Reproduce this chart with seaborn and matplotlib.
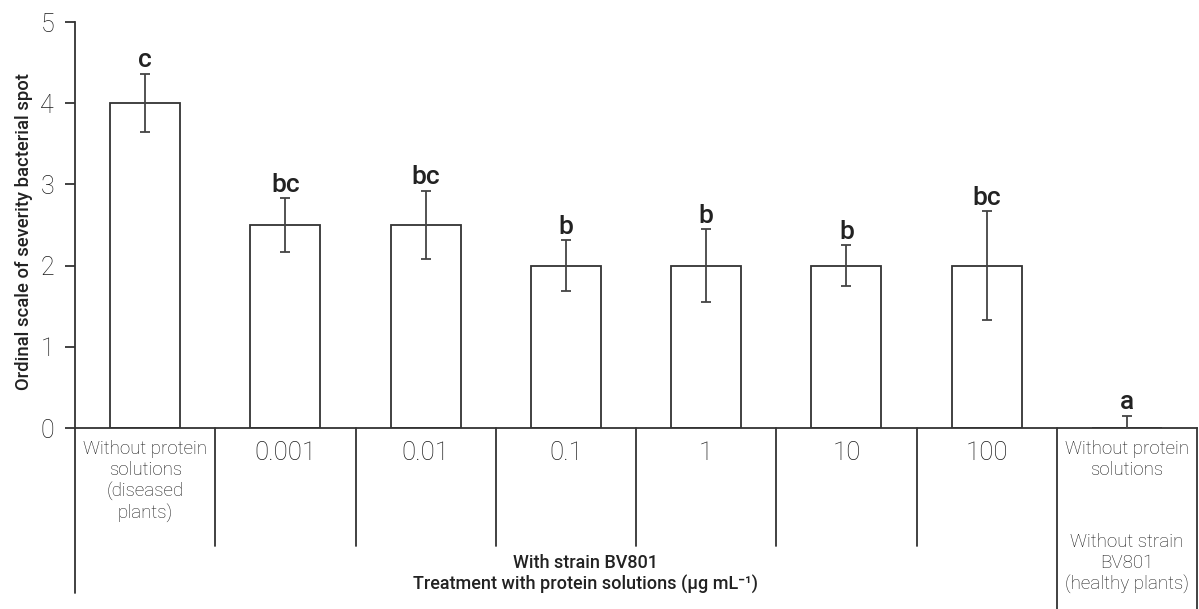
import numpy as np
import pandas as pd
import matplotlib
matplotlib.use("Agg")
import matplotlib.pyplot as plt
import seaborn as sns

# data
treatments = ["Without protein\nsolutions\n(diseased\nplants)", "0.001", "0.01", "0.1",
              "1", "10", "100", "Without protein\nsolutions"]
severity = [4.0, 2.5, 2.5, 2.0, 2.0, 2.0, 2.0, 0.0]
error = [0.36, 0.33, 0.42, 0.31, 0.45, 0.25, 0.67, 0.15]
letters = ["c", "bc", "bc", "b", "b", "b", "bc", "a"]
y_ticks = [0, 1, 2, 3, 4, 5]

sns.set_style("ticks")
plt.rcParams['font.family'] = ['Roboto', 'DejaVu Sans']

df = pd.DataFrame({"treatment": treatments, "severity": severity, "err": error})

ink = "#333333"
fig = plt.figure(figsize=(11.99, 6.09), dpi=100)
ax = fig.add_axes([75 / 1199, (609 - 428) / 609, (1197 - 75) / 1199, (428 - 22) / 609])

sns.barplot(data=df, x="treatment", y="severity", color="white", edgecolor=ink,
            linewidth=1.3, width=0.5, errorbar=None, ax=ax)
xs = np.arange(len(treatments))
ax.errorbar(xs, df["severity"], yerr=df["err"], fmt="none", ecolor="#444444",
            elinewidth=1.3, capsize=3.5, capthick=1.3, zorder=3)

# significance letters
for x, m, e, lab in zip(xs, severity, error, letters):
    ax.text(x, m + e + 0.08, lab, ha="center", va="baseline", fontsize=19,
            fontweight="medium", color="#222222")

ax.set_xlim(-0.5, len(treatments) - 0.5)
ax.set_ylim(0, 5)
ax.set_yticks(y_ticks)
ax.set_yticklabels([str(t) for t in y_ticks], fontsize=18, fontweight="light", color="#1a1a1a")
ax.tick_params(axis="y", length=7, width=1.3, color=ink, pad=8)
ax.tick_params(axis="x", length=0, pad=9)
ax.set_xlabel("")
ax.set_ylabel("Ordinal scale of severity bacterial spot", fontsize=13.3, fontweight="medium",
              color="#222222")
ax.yaxis.set_label_coords(-0.037, 0.485)

ax.set_xticks(xs)
ax.set_xticklabels(treatments, linespacing=1.19, color="#1a1a1a", fontweight="light")
for i, t in enumerate(ax.get_xticklabels()):
    t.set_fontsize(18.5 if i in range(1, 7) else 13.5)

for s in ["top", "right"]:
    ax.spines[s].set_visible(False)
for s in ["left", "bottom"]:
    ax.spines[s].set_color(ink)
    ax.spines[s].set_linewidth(1.3)

# separator lines under the axis
for k in range(6):
    ax.plot([k + 0.5, k + 0.5], [0, -1.45], color=ink, lw=1.3, clip_on=False)
ax.plot([-0.5, -0.5], [0, -2.03], color=ink, lw=1.3, clip_on=False)
for xb in [6.5, 7.5]:
    ax.plot([xb, xb], [0, -2.3], color=ink, lw=1.3, clip_on=False)

ax.text(3.14, -1.8, "With strain BV801\nTreatment with protein solutions (μg mL⁻¹)",
        ha="center", va="center", fontsize=13, fontweight="medium", color="#222222",
        linespacing=1.2)
ax.text(7.0, -1.67, "Without strain\nBV801\n(healthy plants)", ha="center", va="center",
        fontsize=13.5, fontweight="light", color="#1a1a1a", linespacing=1.19)

fig.savefig("out.png", dpi=100)
